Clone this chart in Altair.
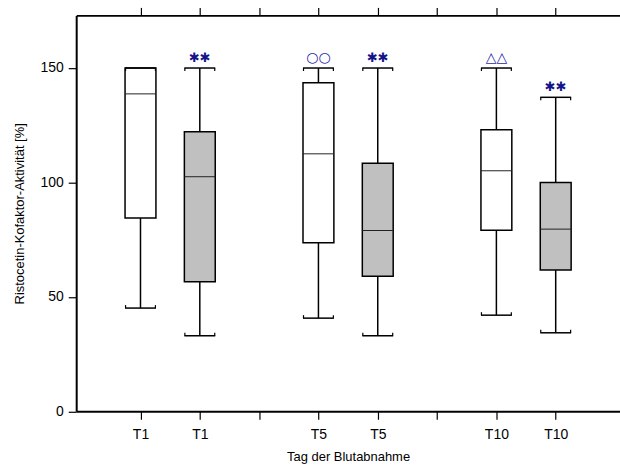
import altair as alt
import pandas as pd

# Box-plot statistics per sampling day (white = group A, grey = group B)
positions = [1, 2, 4, 5, 7, 8]
days = ["T1", "T1", "T5", "T5", "T10", "T10"]
groups = ["A", "B", "A", "B", "A", "B"]
lower = [45.1, 33.0, 40.7, 33.0, 42.0, 34.3]
q1 = [84.5, 56.6, 73.6, 59.0, 79.1, 61.7]
median = [138.7, 102.5, 112.5, 79.0, 105.1, 79.6]
q3 = [150.0, 122.2, 143.6, 108.4, 123.0, 100.0]
upper = [150.0, 150.0, 150.0, 150.0, 150.0, 137.2]

# Significance markers above the whiskers
symbols = ["", "✱✱", "○○", "✱✱", "△△", "✱✱"]
symbol_colors = ["#14148a", "#14148a", "#2b2ba6", "#14148a", "#2b2ba6", "#14148a"]
symbol_sizes = [13, 13, 14, 13, 14, 13]

# Axis ticks (category slots, with empty gaps between days)
tick_positions = [1, 2, 3, 4, 5, 6, 7, 8]
tick_labels = ["T1", "T1", "", "T5", "T5", "", "T10", "T10"]
y_ticks = [0, 50, 100, 150]

df = pd.DataFrame({
    "pos": positions, "day": days, "grp": groups,
    "lower": lower, "q1": q1, "median": median, "q3": q3, "upper": upper,
    "sym": symbols, "sym_color": symbol_colors, "sym_size": symbol_sizes,
})

label_expr = " : ".join(
    f"datum.value == {p} ? '{l}'" for p, l in zip(tick_positions, tick_labels)
) + " : ''"

FONT = "Liberation Sans"
BOX_W = 31
Y_TITLE = "Ristocetin-Kofaktor-Aktivität [%]"
x_scale = alt.Scale(domain=[0, 9], nice=False, zero=False)
y_scale = alt.Scale(domain=[0, 173], nice=False, zero=False)

base = alt.Chart(df)

x_bottom = alt.X(
    "pos:Q", scale=x_scale, title="Tag der Blutabnahme",
    axis=alt.Axis(orient="bottom", values=tick_positions, labelExpr=label_expr,
                  grid=False, tickSize=8, labelPadding=8, titlePadding=9),
)
x_top = alt.X(
    "pos:Q", scale=x_scale, title=None,
    axis=alt.Axis(orient="top", values=tick_positions, labels=False,
                  grid=False, tickSize=8),
)
x_plain = alt.X("pos:Q", scale=x_scale, axis=None)


def y_enc(field, show=False):
    if show:
        return alt.Y(field, scale=y_scale, title=Y_TITLE,
                     axis=alt.Axis(orient="left", values=y_ticks, grid=False, tickSize=8,
                                   labelPadding=5, titlePadding=14))
    return alt.Y(field, scale=y_scale, axis=None)


whiskers = base.mark_rule(color="black", strokeWidth=1.5).encode(
    x=x_bottom, y=y_enc("lower:Q", show=True), y2="upper:Q",
)

boxes = base.mark_bar(size=BOX_W, stroke="black", strokeWidth=1.5).encode(
    x=x_top,
    y=y_enc("q1:Q"),
    y2="q3:Q",
    fill=alt.Fill("grp:N", scale=alt.Scale(domain=["A", "B"], range=["white", "#c0c0c0"]),
                  legend=None),
)

medians = base.mark_tick(orient="horizontal", size=BOX_W, thickness=1,
                         color="#222222", opacity=1).encode(
    x=x_plain, y=y_enc("median:Q"),
)

cap_top = base.mark_tick(orient="horizontal", size=BOX_W, thickness=1.5,
                         color="black", opacity=1).encode(
    x=x_plain, y=y_enc("upper:Q"),
)
cap_bottom = base.mark_tick(orient="horizontal", size=BOX_W, thickness=1.5,
                            color="black", opacity=1).encode(
    x=x_plain, y=y_enc("lower:Q"),
)

# little end hooks on the whisker caps
hooks = []
for dx in (-(BOX_W / 2 - 0.5), BOX_W / 2 - 0.5):
    hooks.append(base.mark_tick(orient="vertical", size=3, thickness=1.2, color="black",
                                opacity=1, xOffset=dx, yOffset=1.5).encode(
        x=x_plain, y=y_enc("upper:Q")))
    hooks.append(base.mark_tick(orient="vertical", size=3, thickness=1.2, color="black",
                                opacity=1, xOffset=dx, yOffset=-1.5).encode(
        x=x_plain, y=y_enc("lower:Q")))

labels = base.transform_filter("datum.sym != ''").mark_text(
    dy=-10, font="DejaVu Sans", baseline="middle",
).encode(
    x=x_plain, y=y_enc("upper:Q"),
    text="sym:N", color=alt.Color("sym_color:N", scale=None),
    size=alt.Size("sym_size:Q", scale=None),
)

chart = alt.layer(
    whiskers, boxes, medians, cap_top, cap_bottom, *hooks, labels
).resolve_axis(
    x="independent", y="independent",
).properties(
    width=546, height=397.5,
    background="white",
    padding={"left": 76.5, "top": 14.5, "right": 0, "bottom": 55},
    autosize=alt.AutoSizeParams(type="none"),
).configure_view(stroke=None).configure_axis(
    domainColor="black", domainWidth=2, tickColor="black", tickWidth=1.2,
    labelFont=FONT, labelFontSize=14, labelColor="black",
    titleFont=FONT, titleFontSize=13, titleFontWeight="normal", titleColor="black",
)

chart.save("out.html", embed_options={"renderer": "svg", "actions": False})
